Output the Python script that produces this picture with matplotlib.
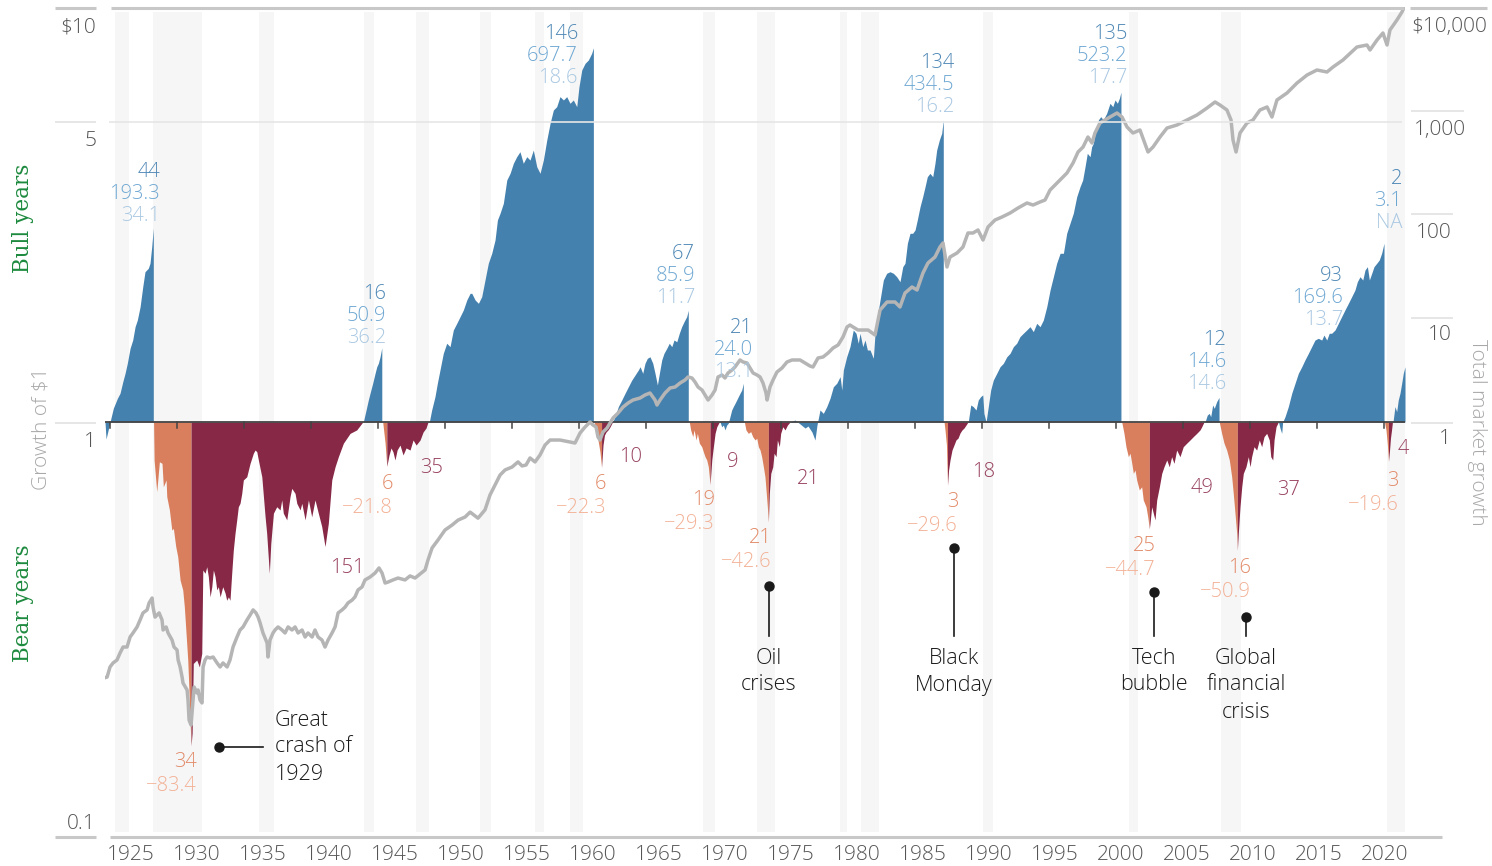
import matplotlib

matplotlib.use("Agg")

import matplotlib.pyplot as plt
from matplotlib.lines import Line2D
from matplotlib.transforms import blended_transform_factory

W, H = 1492, 866

BLUE = "#4581ae"
ORANGE = "#d97f5e"
MAROON = "#862846"
LINE_GRAY = "#b5b5b5"
BAND = "#f6f6f6"
SANS = ["Open Sans", "DejaVu Sans"]
WEIGHT = "light"

# growth of $1 within each market phase: (year, value)
bull_1923 = [(1923.03, 1.0), (1923.11, 0.91), (1923.41, 1.0), (1923.66, 1.079), (1923.97, 1.141),
             (1924.17, 1.173), (1924.38, 1.251), (1924.55, 1.31), (1924.72, 1.385), (1924.93, 1.505),
             (1925.13, 1.576), (1925.31, 1.697), (1925.48, 1.761), (1925.69, 1.896), (1925.89, 2.118),
             (1926.06, 2.302), (1926.31, 2.346), (1926.44, 2.413), (1926.57, 2.645), (1926.69, 2.933)]
bull_1942 = [(1942.60, 1.0), (1942.81, 1.069), (1942.98, 1.13), (1943.11, 1.173), (1943.31, 1.24),
             (1943.49, 1.31), (1943.62, 1.359), (1943.74, 1.385), (1943.87, 1.436), (1944.00, 1.509)]
bull_1947 = [(1947.60, 1.0), (1947.78, 1.069), (1948.03, 1.151), (1948.21, 1.24), (1948.41, 1.335),
             (1948.66, 1.464), (1948.92, 1.548), (1949.17, 1.519), (1949.42, 1.666), (1949.68, 1.729),
             (1949.93, 1.794), (1950.18, 1.862), (1950.44, 1.968), (1950.69, 2.042), (1950.82, 2.042),
             (1951.07, 1.968), (1951.32, 1.932), (1951.57, 2.004), (1951.82, 2.199), (1952.07, 2.413),
             (1952.33, 2.55), (1952.58, 2.745), (1952.76, 3.067), (1952.96, 3.184), (1953.21, 3.365),
             (1953.47, 3.829), (1953.72, 3.974), (1953.97, 4.202), (1954.22, 4.358), (1954.47, 4.48),
             (1954.72, 4.202), (1954.98, 4.358), (1955.23, 4.278), (1955.48, 4.522), (1955.74, 4.123),
             (1955.99, 3.974), (1956.24, 4.278), (1956.50, 4.78), (1956.75, 5.246), (1957.00, 5.647),
             (1957.25, 5.752), (1957.50, 6.081), (1957.76, 5.97), (1958.01, 6.081), (1958.26, 5.861),
             (1958.51, 5.97), (1958.77, 5.752), (1958.94, 6.427), (1959.15, 7.05), (1959.40, 7.316),
             (1959.65, 7.452), (1959.90, 7.733), (1960.03, 7.977)]
bull_1961 = [(1961.48, 1.0), (1961.67, 1.03), (1961.92, 1.089), (1962.18, 1.13), (1962.43, 1.173),
             (1962.68, 1.216), (1962.94, 1.262), (1963.19, 1.298), (1963.44, 1.335), (1963.57, 1.359),
             (1963.77, 1.31), (1963.94, 1.385), (1964.12, 1.424), (1964.32, 1.436), (1964.53, 1.385),
             (1964.70, 1.31), (1964.88, 1.228), (1965.03, 1.31), (1965.21, 1.411), (1965.38, 1.464),
             (1965.59, 1.505), (1965.78, 1.548), (1965.97, 1.519), (1966.14, 1.576), (1966.35, 1.561),
             (1966.54, 1.636), (1966.72, 1.697), (1966.90, 1.745), (1967.10, 1.794), (1967.22, 1.859)]
bull_1969 = [(1969.63, 1.0), (1969.75, 0.974), (1969.88, 0.983), (1970.00, 0.957), (1970.13, 0.983),
             (1970.25, 0.993), (1970.38, 1.03), (1970.51, 1.069), (1970.63, 1.089), (1970.76, 1.109),
             (1970.89, 1.13), (1971.01, 1.151), (1971.14, 1.173), (1971.27, 1.194), (1971.39, 1.24)]
bull_1974 = [(1974.93, 1.0), (1975.31, 1.011), (1975.69, 0.989), (1976.07, 0.967), (1976.29, 0.978),
             (1976.59, 0.946), (1976.82, 0.905), (1976.97, 0.983), (1977.20, 1.069), (1977.45, 1.049),
             (1977.71, 1.089), (1977.96, 1.141), (1978.21, 1.216), (1978.47, 1.24), (1978.72, 1.286),
             (1978.85, 1.194), (1978.97, 1.335), (1979.22, 1.436), (1979.47, 1.519), (1979.72, 1.666),
             (1979.93, 1.636), (1980.10, 1.548), (1980.23, 1.636), (1980.44, 1.519), (1980.61, 1.576),
             (1980.79, 1.491), (1980.99, 1.491), (1981.24, 1.424), (1981.37, 1.636), (1981.54, 1.794),
             (1981.75, 1.968), (1982.00, 2.199), (1982.25, 2.282), (1982.50, 2.302), (1982.76, 2.282),
             (1983.01, 2.239), (1983.26, 2.178), (1983.47, 2.367), (1983.64, 2.413), (1983.82, 2.695),
             (1984.02, 2.849), (1984.22, 2.849), (1984.40, 2.902), (1984.57, 3.067), (1984.78, 3.303),
             (1984.98, 3.491), (1985.16, 3.69), (1985.33, 3.9), (1985.53, 3.974), (1985.74, 3.9),
             (1985.91, 4.202), (1986.04, 4.522), (1986.24, 4.78), (1986.42, 4.963), (1986.54, 5.345)]
bull_1988 = [(1988.43, 1.0), (1988.62, 1.099), (1988.81, 1.089), (1989.02, 1.069), (1989.19, 1.13),
             (1989.37, 1.151), (1989.53, 1.162), (1989.62, 1.049), (1989.78, 1.0), (1989.95, 1.089),
             (1990.13, 1.194), (1990.33, 1.262), (1990.59, 1.31), (1990.84, 1.359), (1991.09, 1.385),
             (1991.35, 1.436), (1991.60, 1.464), (1991.85, 1.519), (1992.10, 1.548), (1992.35, 1.606),
             (1992.60, 1.636), (1992.86, 1.666), (1993.11, 1.697), (1993.36, 1.651), (1993.62, 1.729),
             (1993.87, 1.697), (1994.12, 1.761), (1994.38, 1.896), (1994.63, 2.08), (1994.88, 2.239),
             (1995.13, 2.413), (1995.39, 2.55), (1995.64, 2.55), (1995.89, 2.849), (1996.14, 3.012),
             (1996.39, 3.184), (1996.65, 3.491), (1996.90, 3.69), (1997.10, 3.829), (1997.28, 4.123),
             (1997.45, 4.441), (1997.66, 4.358), (1997.78, 4.606), (1997.91, 4.695), (1998.03, 4.963),
             (1998.16, 5.054), (1998.29, 5.345), (1998.47, 5.443), (1998.66, 5.345), (1998.92, 5.546),
             (1999.17, 5.861), (1999.38, 5.752), (1999.55, 5.97), (1999.73, 5.861), (1999.88, 6.026),
             (2000.00, 6.232)]
bull_2006 = [(2006.37, 1.0), (2006.54, 1.039), (2006.69, 1.049), (2006.80, 1.03), (2006.95, 1.099),
             (2007.07, 1.079), (2007.25, 1.119), (2007.43, 1.146)]
bull_2011 = [(2011.94, 1.0), (2012.05, 0.967), (2012.18, 0.939), (2012.25, 1.0), (2012.43, 1.03),
             (2012.68, 1.089), (2012.94, 1.173), (2013.19, 1.24), (2013.44, 1.31), (2013.70, 1.359),
             (2013.94, 1.411), (2014.20, 1.464), (2014.45, 1.519), (2014.70, 1.576), (2014.95, 1.591),
             (2015.21, 1.576), (2015.38, 1.62), (2015.59, 1.576), (2015.78, 1.636), (2015.96, 1.636),
             (2016.22, 1.666), (2016.47, 1.729), (2016.72, 1.794), (2016.97, 1.862), (2017.23, 1.932),
             (2017.48, 2.004), (2017.73, 2.08), (2017.91, 2.178), (2018.11, 2.239), (2018.32, 2.199),
             (2018.49, 2.324), (2018.67, 2.367), (2018.82, 2.199), (2019.00, 2.282), (2019.17, 2.367),
             (2019.38, 2.413), (2019.57, 2.457), (2019.75, 2.55), (2019.93, 2.696)]
bull_2020 = [(2020.61, 1.0), (2020.76, 1.089), (2020.89, 1.059), (2021.01, 1.13), (2021.14, 1.173),
             (2021.27, 1.24), (2021.39, 1.31), (2021.52, 1.359)]

fall_1929 = [(1926.71, 1.0), (1926.75, 0.81), (1926.95, 0.679), (1927.15, 0.802), (1927.35, 0.795),
             (1927.45, 0.698), (1927.66, 0.725), (1927.71, 0.661), (1927.91, 0.614), (1928.09, 0.549),
             (1928.21, 0.554), (1928.39, 0.501), (1928.54, 0.474), (1928.72, 0.416), (1928.92, 0.394),
             (1929.04, 0.359), (1929.17, 0.31), (1929.30, 0.267), (1929.40, 0.222), (1929.47, 0.191),
             (1929.55, 0.166)]
fall_1944 = [(1944.07, 1.0), (1944.25, 0.889), (1944.38, 0.782)]
fall_1960 = [(1960.08, 1.0), (1960.23, 0.957), (1960.38, 0.905), (1960.53, 0.847), (1960.65, 0.777)]
fall_1967 = [(1967.30, 1.0), (1967.40, 0.957), (1967.56, 0.922), (1967.66, 0.957), (1967.81, 0.905),
             (1967.91, 0.939), (1968.06, 0.889), (1968.24, 0.872), (1968.36, 0.848), (1968.49, 0.825),
             (1968.62, 0.81), (1968.74, 0.78), (1968.87, 0.707)]
fall_1971 = [(1971.47, 1.0), (1971.59, 0.957), (1971.77, 0.939), (1971.95, 0.948), (1972.10, 0.922),
             (1972.28, 0.905), (1972.41, 0.914), (1972.53, 0.872), (1972.66, 0.856), (1972.78, 0.825),
             (1972.91, 0.78), (1973.03, 0.738), (1973.11, 0.686), (1973.21, 0.625), (1973.29, 0.574)]
fall_1986 = [(1986.60, 1.0), (1986.67, 0.957), (1986.78, 0.88), (1986.86, 0.704)]
fall_2000 = [(2000.06, 1.0), (2000.23, 0.939), (2000.38, 0.872), (2000.56, 0.825), (2000.69, 0.841),
             (2000.82, 0.795), (2000.94, 0.752), (2001.07, 0.766), (2001.19, 0.725), (2001.39, 0.686),
             (2001.57, 0.698), (2001.69, 0.649), (2001.90, 0.625), (2002.03, 0.591), (2002.15, 0.553)]
fall_2007 = [(2007.45, 1.0), (2007.63, 0.939), (2007.81, 0.889), (2008.01, 0.856), (2008.21, 0.81),
             (2008.39, 0.738), (2008.51, 0.673), (2008.64, 0.603), (2008.77, 0.539), (2008.82, 0.491)]
fall_2020 = [(2019.97, 1.0), (2020.08, 0.957), (2020.19, 0.88), (2020.27, 0.804)]

rise_1929 = [(1929.55, 0.166), (1929.63, 0.178), (1929.72, 0.262), (1929.98, 0.267), (1930.18, 0.257),
             (1930.36, 0.277), (1930.44, 0.44), (1930.61, 0.432), (1930.74, 0.448), (1930.86, 0.424),
             (1930.99, 0.379), (1931.12, 0.401), (1931.24, 0.44), (1931.37, 0.424), (1931.50, 0.394),
             (1931.62, 0.401), (1931.75, 0.379), (1931.95, 0.401), (1932.13, 0.387), (1932.25, 0.372),
             (1932.38, 0.379), (1932.50, 0.372), (1932.63, 0.432), (1932.75, 0.491), (1932.88, 0.539),
             (1933.01, 0.581), (1933.13, 0.625), (1933.26, 0.637), (1933.39, 0.673), (1933.51, 0.725),
             (1933.77, 0.738), (1934.02, 0.795), (1934.27, 0.841), (1934.40, 0.856), (1934.53, 0.848),
             (1934.65, 0.81), (1934.91, 0.738), (1935.16, 0.591), (1935.28, 0.539), (1935.48, 0.432),
             (1935.59, 0.51), (1935.79, 0.603), (1936.04, 0.625), (1936.29, 0.614), (1936.42, 0.649),
             (1936.54, 0.603), (1936.80, 0.581), (1937.05, 0.661), (1937.18, 0.692), (1937.43, 0.673),
             (1937.56, 0.637), (1937.81, 0.614), (1937.94, 0.637), (1938.19, 0.581), (1938.44, 0.649),
             (1938.69, 0.591), (1938.94, 0.649), (1939.19, 0.603), (1939.45, 0.56), (1939.70, 0.501),
             (1939.95, 0.57), (1940.21, 0.725), (1940.46, 0.78), (1940.71, 0.825), (1941.09, 0.889),
             (1941.60, 0.939), (1942.10, 0.957), (1942.56, 1.0)]
rise_1944 = [(1944.38, 0.782), (1944.55, 0.833), (1944.70, 0.866), (1944.85, 0.847), (1945.00, 0.81),
             (1945.16, 0.856), (1945.38, 0.88), (1945.61, 0.833), (1945.84, 0.866), (1946.14, 0.856),
             (1946.37, 0.905), (1946.60, 0.88), (1946.90, 0.905), (1947.13, 0.946), (1947.35, 0.967),
             (1947.50, 1.0)]
rise_1960 = [(1960.65, 0.777), (1960.76, 0.88), (1960.87, 0.93), (1960.99, 0.946), (1961.14, 0.957),
             (1961.29, 0.973), (1961.48, 1.0)]
rise_1968 = [(1968.87, 0.707), (1969.00, 0.81), (1969.12, 0.872), (1969.25, 0.939), (1969.38, 0.974),
             (1969.57, 1.0)]
rise_1973 = [(1973.29, 0.574), (1973.36, 0.673), (1973.47, 0.752), (1973.62, 0.78), (1973.72, 0.841),
             (1973.87, 0.825), (1973.97, 0.905), (1974.12, 0.872), (1974.22, 0.939), (1974.38, 0.974),
             (1974.55, 0.957), (1974.73, 0.983), (1974.93, 1.0)]
rise_1986 = [(1986.86, 0.704), (1986.94, 0.766), (1987.05, 0.81), (1987.20, 0.856), (1987.35, 0.88),
             (1987.50, 0.905), (1987.66, 0.915), (1987.81, 0.941), (1987.96, 0.957), (1988.11, 0.967),
             (1988.26, 0.983), (1988.41, 1.0)]
rise_2002 = [(2002.15, 0.553), (2002.20, 0.57), (2002.33, 0.625), (2002.45, 0.603), (2002.58, 0.581),
             (2002.71, 0.649), (2002.91, 0.698), (2003.09, 0.752), (2003.26, 0.78), (2003.47, 0.81),
             (2003.66, 0.78), (2003.84, 0.825), (2004.02, 0.795), (2004.22, 0.856), (2004.47, 0.825),
             (2004.72, 0.872), (2004.98, 0.889), (2005.23, 0.905), (2005.48, 0.922), (2005.74, 0.939),
             (2005.99, 0.957), (2006.12, 0.974), (2006.29, 1.0)]
rise_2008 = [(2008.82, 0.491), (2008.89, 0.539), (2009.02, 0.625), (2009.15, 0.698), (2009.27, 0.752),
             (2009.47, 0.78), (2009.65, 0.825), (2009.78, 0.78), (2009.90, 0.825), (2010.08, 0.872),
             (2010.28, 0.856), (2010.48, 0.905), (2010.66, 0.872), (2010.84, 0.922), (2011.04, 0.939),
             (2011.24, 0.905), (2011.35, 0.825), (2011.50, 0.81), (2011.60, 0.905), (2011.75, 0.974),
             (2011.92, 1.0)]
rise_2020 = [(2020.27, 0.804), (2020.35, 0.856), (2020.42, 0.915), (2020.50, 0.957), (2020.57, 1.0)]

# total market growth (right axis)
market = [(1922.96, 0.00346), (1923.19, 0.00353), (1923.41, 0.00441), (1923.64, 0.00482), (1923.94, 0.00515),
          (1924.17, 0.00601), (1924.40, 0.00686), (1924.70, 0.00686), (1924.93, 0.00856), (1925.15, 0.00936),
          (1925.46, 0.0107), (1925.69, 0.0125), (1925.91, 0.0146), (1926.22, 0.0156), (1926.37, 0.0182),
          (1926.60, 0.0203), (1926.67, 0.0166), (1926.82, 0.0133), (1926.97, 0.0139), (1927.13, 0.0146),
          (1927.35, 0.0125), (1927.43, 0.0100), (1927.66, 0.0107), (1927.81, 0.00936), (1928.11, 0.00801),
          (1928.26, 0.00686), (1928.49, 0.00642), (1928.57, 0.00515), (1928.72, 0.00441), (1928.87, 0.00353),
          (1928.94, 0.00309), (1929.25, 0.00265), (1929.32, 0.00212), (1929.40, 0.00136), (1929.55, 0.00122),
          (1929.70, 0.00212), (1929.78, 0.00283), (1930.00, 0.00248), (1930.08, 0.00265), (1930.23, 0.00212),
          (1930.38, 0.00199), (1930.46, 0.00441), (1930.61, 0.00515), (1930.76, 0.00550), (1930.99, 0.00538),
          (1931.22, 0.00550), (1931.52, 0.00482), (1931.75, 0.00441), (1931.97, 0.00482), (1932.28, 0.00441),
          (1932.50, 0.00515), (1932.73, 0.00686), (1933.03, 0.00856), (1933.26, 0.0100), (1933.49, 0.0107),
          (1933.79, 0.0125), (1934.02, 0.0139), (1934.25, 0.0156), (1934.47, 0.0146), (1934.63, 0.0133),
          (1934.78, 0.0117), (1935.00, 0.00936), (1935.31, 0.00750), (1935.38, 0.00550), (1935.53, 0.00801),
          (1935.76, 0.00936), (1935.91, 0.0100), (1936.14, 0.0107), (1936.44, 0.0100), (1936.67, 0.00936),
          (1936.90, 0.0107), (1937.20, 0.0100), (1937.43, 0.0107), (1937.66, 0.00936), (1937.96, 0.0100),
          (1938.19, 0.00856), (1938.41, 0.00936), (1938.72, 0.00856), (1938.94, 0.0100), (1939.17, 0.00856),
          (1939.47, 0.00801), (1939.70, 0.00686), (1939.93, 0.00801), (1940.23, 0.00936), (1940.46, 0.0107),
          (1940.69, 0.0146), (1940.99, 0.0156), (1941.22, 0.0166), (1941.44, 0.0182), (1941.75, 0.0194),
          (1941.97, 0.0208), (1942.20, 0.0243), (1942.50, 0.0259), (1942.73, 0.0303), (1943.11, 0.0323),
          (1943.49, 0.0353), (1943.79, 0.0395), (1944.02, 0.0353), (1944.25, 0.0283), (1944.47, 0.0289),
          (1944.85, 0.0303), (1945.23, 0.0316), (1945.76, 0.0303), (1946.14, 0.0331), (1946.52, 0.0316),
          (1946.90, 0.0346), (1947.28, 0.0378), (1947.50, 0.0471), (1947.81, 0.0615), (1948.26, 0.0734),
          (1948.79, 0.0915), (1949.32, 0.102), (1949.78, 0.114), (1950.31, 0.122), (1950.69, 0.136),
          (1951.29, 0.119), (1951.82, 0.143), (1952.20, 0.199), (1952.58, 0.248), (1952.96, 0.309),
          (1953.34, 0.346), (1953.87, 0.369), (1954.32, 0.413), (1954.63, 0.378), (1954.93, 0.386),
          (1955.23, 0.451), (1955.61, 0.413), (1955.99, 0.482), (1956.37, 0.601), (1956.75, 0.671),
          (1957.50, 0.671), (1958.26, 0.642), (1958.64, 0.628), (1959.02, 0.784), (1959.40, 0.895),
          (1959.78, 1.0), (1960.00, 0.936), (1960.23, 0.895), (1960.38, 0.717), (1960.53, 0.671),
          (1960.76, 0.801), (1961.07, 0.876), (1961.29, 0.978), (1961.52, 1.093), (1961.90, 1.22),
          (1962.28, 1.394), (1962.66, 1.522), (1963.03, 1.627), (1963.57, 1.701), (1963.94, 1.818),
          (1964.32, 1.900), (1964.70, 1.627), (1964.85, 1.457), (1965.08, 1.627), (1965.46, 1.900),
          (1965.84, 2.123), (1966.22, 2.170), (1966.60, 2.371), (1966.97, 2.534), (1967.20, 2.708),
          (1967.50, 2.649), (1967.73, 2.425), (1967.96, 2.170), (1968.26, 2.031), (1968.49, 1.818),
          (1968.72, 1.627), (1969.02, 1.818), (1969.25, 2.031), (1969.47, 2.708), (1969.78, 2.830),
          (1970.00, 2.649), (1970.23, 2.959), (1970.53, 3.162), (1970.76, 3.380), (1971.14, 3.947),
          (1971.37, 3.776), (1971.67, 3.693), (1971.90, 3.305), (1972.13, 2.959), (1972.43, 2.830),
          (1972.66, 2.708), (1972.88, 2.371), (1973.11, 1.900), (1973.19, 1.627), (1973.41, 2.170),
          (1973.64, 2.534), (1973.94, 3.026), (1974.32, 3.305), (1974.70, 3.776), (1975.08, 3.947),
          (1975.46, 3.947), (1975.69, 3.947), (1976.07, 3.693), (1976.44, 3.455), (1976.67, 3.380),
          (1977.05, 4.125), (1977.43, 4.217), (1977.81, 4.608), (1978.19, 5.146), (1978.57, 5.500),
          (1978.94, 6.567), (1979.25, 8.195), (1979.47, 8.564), (1979.70, 8.195), (1980.08, 7.666),
          (1980.46, 7.666), (1980.84, 7.666), (1981.37, 6.862), (1981.75, 11.94), (1982.28, 14.25),
          (1982.88, 14.25), (1983.26, 12.76), (1983.64, 17.39), (1984.17, 19.87), (1984.55, 18.59),
          (1985.00, 27.09), (1985.38, 33.80), (1985.91, 38.59), (1986.29, 48.17), (1986.52, 52.62),
          (1986.82, 30.93), (1987.05, 38.59), (1987.58, 42.17), (1988.03, 48.17), (1988.41, 65.67),
          (1988.79, 65.67), (1989.17, 70.19), (1989.55, 56.23), (1989.93, 74.99), (1990.46, 87.6),
          (1990.99, 93.6), (1991.60, 102.2), (1992.20, 114.2), (1992.88, 127.6), (1993.34, 122.0),
          (1993.87, 130.5), (1994.25, 136.3), (1994.63, 170.1), (1995.23, 203.1), (1995.91, 247.9),
          (1996.37, 309.3), (1996.75, 394.7), (1997.13, 440.8), (1997.50, 550.1), (1997.81, 481.5),
          (1998.03, 600.9), (1998.41, 749.9), (1998.79, 801.4), (1999.17, 856.4), (1999.70, 935.8),
          (2000.08, 856.4), (2000.46, 686.2), (2000.91, 600.9), (2001.44, 642.1), (2002.05, 394.7),
          (2002.43, 440.8), (2002.96, 550.1), (2003.49, 671.3), (2004.25, 717.5), (2005.00, 801.4),
          (2005.76, 895.3), (2006.52, 1045), (2007.13, 1194), (2007.50, 1117), (2008.03, 1000),
          (2008.34, 801.4), (2008.49, 514.6), (2008.72, 394.7), (2009.02, 600.9), (2009.55, 749.9),
          (2010.00, 801.4), (2010.53, 1000), (2011.07, 1069), (2011.44, 856.4), (2011.82, 1248),
          (2012.58, 1457), (2013.34, 1818), (2014.10, 2170), (2014.85, 2425), (2015.61, 2320),
          (2016.07, 2592), (2016.82, 3026), (2017.88, 4035), (2018.64, 4217), (2018.87, 3776),
          (2019.40, 4711), (2019.85, 5500), (2020.16, 4217), (2020.38, 5877), (2020.91, 7336),
          (2021.29, 8757), (2021.44, 9568)]

recession_start = [1923.79, 1926.67, 1934.70, 1942.66, 1946.60, 1951.44, 1955.61, 1958.26, 1968.34,
                   1972.43, 1978.72, 1980.31, 1989.55, 2000.61, 2007.58, 2020.16]
recession_end = [1924.85, 1930.38, 1935.84, 1943.41, 1947.58, 1952.28, 1956.29, 1959.25, 1969.25,
                 1973.79, 1979.25, 1981.67, 1990.31, 2001.29, 2009.10, 2021.52]

bull_months = ["44", "16", "146", "67", "21", "134", "135", "12", "93", "2"]
bull_gain = ["193.3", "50.9", "697.7", "85.9", "24.0", "434.5", "523.2", "14.6", "169.6", "3.1"]
bull_annual = ["34.1", "36.2", "18.6", "11.7", "13.1", "16.2", "17.7", "14.6", "13.7", "NA"]
bear_months = ["34", "6", "6", "19", "21", "3", "25", "16", "3"]
bear_loss = ["\u221283.4", "\u221221.8", "\u221222.3", "\u221229.3", "\u221242.6", "\u221229.6",
             "\u221244.7", "\u221250.9", "\u221219.6"]
recovery_months = ["151", "35", "10", "9", "21", "18", "49", "37", "4"]
year_labels = list(range(1925, 2021, 5))

BULLS = [bull_1923, bull_1942, bull_1947, bull_1961, bull_1969, bull_1974, bull_1988, bull_2006,
         bull_2011, bull_2020]
FALLS = [fall_1929, fall_1944, fall_1960, fall_1967, fall_1971, fall_1986, fall_2000, fall_2007, fall_2020]
RISES = [rise_1929, rise_1944, rise_1960, rise_1968, rise_1973, rise_1986, rise_2002, rise_2008, rise_2020]

# label anchors in picture pixels
bull_label_px = [(160, 170), (386, 292), (578, 32), (695, 252), (753, 326), (954, 61), (1127, 32),
                 (1226, 338), (1343, 274), (1402, 177)]
bear_label_px = [(197, 760), (393, 482), (606, 482), (715, 498), (772, 536), (958, 500), (1156, 544),
                 (1251, 566), (1399, 479)]
recovery_label_px = [(330, 566), (420, 466), (619, 455), (727, 460), (797, 477), (972, 470), (1191, 486),
                     (1277, 488), (1398, 447)]

TEXT_DY = 2  # va="center" sits a little high for digits


def fx(px):
    return px / W


def fy(py):
    return 1 - py / H


def hline(fig, x0, x1, y, color, lw):
    fig.add_artist(Line2D([fx(x0), fx(x1)], [fy(y), fy(y)], color=color, lw=lw,
                          transform=fig.transFigure, solid_capstyle="butt"))


def txt(fig, x, y, s, color, size=14.5, ha="right", **kw):
    fig.text(fx(x), fy(y + TEXT_DY), s, color=color, fontsize=size, ha=ha, va="center",
             family=SANS, fontweight=WEIGHT, **kw)


fig = plt.figure(figsize=(W / 100, H / 100), dpi=100)
ax = fig.add_axes([fx(105), fy(837), 1300 / W, 830 / H])
ax.set_xlim(1923.03, 2021.52)
ax.set_yscale("log")
ax.set_ylim(0.1, 10)
ax.axis("off")

ax2 = ax.twinx()
ax2.set_yscale("log")
ax2.set_ylim(10 ** (-415 / 104), 10 ** (415 / 104))
ax2.axis("off")

for s, e in zip(recession_start, recession_end):
    ax.axvspan(s, e, ymin=5 / 830, ymax=825 / 830, color=BAND, lw=0, zorder=0)

for segs, color in [(BULLS, BLUE), (FALLS, ORANGE), (RISES, MAROON)]:
    for seg in segs:
        xs, ys = zip(*seg)
        ax.fill_between(xs, 1, ys, color=color, lw=0, zorder=2)

mx, my = zip(*market)
ax2.plot(mx, my, color=LINE_GRAY, lw=2.5, zorder=5, solid_joinstyle="round")

ax.axhline(1, color="#444444", lw=1.3, zorder=6)
for k in range(20):
    xt = 110 + 67.05 * k
    fig.add_artist(Line2D([fx(xt), fx(xt)], [fy(422), fy(428)], color="#444444", lw=1.1,
                          transform=fig.transFigure))

# frame lines
hline(fig, 111, 1404, 8, "#c8c8c8", 2.2)
hline(fig, 109, 1402, 122, "#e6e6e6", 1.2)
hline(fig, 110, 1442, 837, "#c8c8c8", 2.2)
hline(fig, 55, 96, 7.5, "#c8c8c8", 2.2)
hline(fig, 55, 96, 122, "#e2e2e2", 1.2)
hline(fig, 55, 96, 422.5, "#e2e2e2", 1.2)
hline(fig, 55, 96, 837, "#c8c8c8", 2.2)
hline(fig, 1410, 1487, 7.5, "#c8c8c8", 2.2)
hline(fig, 1411, 1464, 111, "#e2e2e2", 1.2)
for yy in (214, 318, 422.5):
    hline(fig, 1411, 1453, yy, "#e2e2e2", 1.2)

# axis labels
AX = "#555555"
for s, y in [("$10", 25), ("5", 139), ("1", 440), ("0.1", 822)]:
    txt(fig, 96, y, s, AX, size=15)
for s, x, y in [("$10,000", 1487, 25), ("1,000", 1466, 128), ("100", 1452, 231), ("10", 1452, 333),
                ("1", 1451, 437)]:
    txt(fig, x, y, s, AX, size=15)

tr = blended_transform_factory(ax.transData, fig.transFigure)
for yr in year_labels:
    ax.text(yr, fy(853 + TEXT_DY), str(yr), transform=tr, ha="center", va="center", fontsize=15,
            color=AX, family=SANS, fontweight=WEIGHT)

fig.text(fx(23), fy(218), "Bull years", rotation=90, ha="center", va="center", fontsize=15.5,
         color="#1d8a3e", family=["DejaVu Serif"])
fig.text(fx(23), fy(603), "Bear years", rotation=90, ha="center", va="center", fontsize=15.5,
         color="#1d8a3e", family=["DejaVu Serif"])
fig.text(fx(41), fy(429), "Growth of $1", rotation=90, ha="center", va="center", fontsize=15,
         color="#a8a8a8", family=SANS, fontweight=WEIGHT)
fig.text(fx(1477), fy(432), "Total market growth", rotation=270, ha="center", va="center",
         fontsize=15, color="#a8a8a8", family=SANS, fontweight=WEIGHT)

for (x, y), m, g, a in zip(bull_label_px, bull_months, bull_gain, bull_annual):
    txt(fig, x, y, m, "#4d87b5", zorder=7)
    txt(fig, x, y + 22, g, "#6ea7d2", zorder=7)
    txt(fig, x, y + 44, a, "#a9c8e2", zorder=7)

for (x, y), m, l in zip(bear_label_px, bear_months, bear_loss):
    txt(fig, x, y, m, "#e28a68")
    txt(fig, x, y + 24, l, "#f3b196")

for (x, y), r in zip(recovery_label_px, recovery_months):
    txt(fig, x, y, r, "#97405e", ha="left")

# event call-outs
INK = "#1a1a1a"
fig.add_artist(Line2D([fx(219), fx(263)], [fy(747), fy(747)], color=INK, lw=1.2,
                      transform=fig.transFigure))
fig.add_artist(Line2D([fx(219)], [fy(747)], marker="o", ms=6.5, color=INK, lw=0,
                      transform=fig.transFigure))
for i, s in enumerate(["Great", "crash of", "1929"]):
    txt(fig, 275, 718 + 27 * i, s, INK, size=15.5, ha="left")

events = [(769, 586, ["Oil", "crises"]), (954, 548, ["Black", "Monday"]),
          (1154, 592, ["Tech", "bubble"]), (1246, 617, ["Global", "financial", "crisis"])]
for x, y, lines in events:
    fig.add_artist(Line2D([fx(x), fx(x)], [fy(y), fy(636)], color=INK, lw=1.2,
                          transform=fig.transFigure))
    fig.add_artist(Line2D([fx(x)], [fy(y)], marker="o", ms=6.5, color=INK, lw=0,
                          transform=fig.transFigure))
    for i, s in enumerate(lines):
        txt(fig, x, 656 + 27 * i, s, INK, size=15.5, ha="center")

fig.savefig("out.png", dpi=100)
